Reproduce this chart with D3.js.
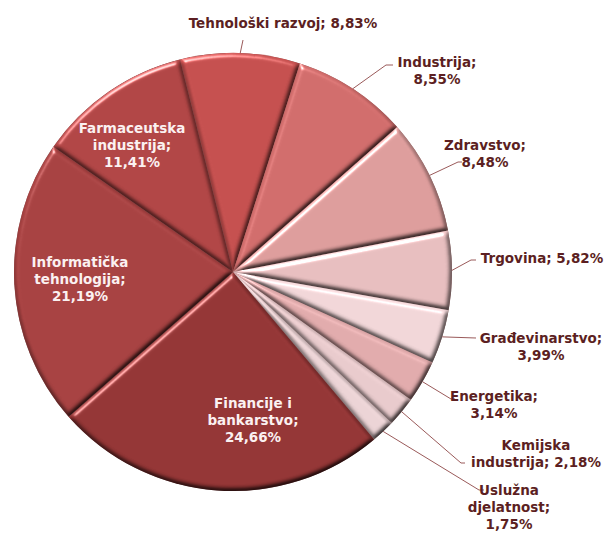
<!DOCTYPE html>
<html>
<head>
<meta charset="utf-8">
<script src="https://cdn.jsdelivr.net/npm/d3@7"></script>
<style>
  html, body { margin: 0; padding: 0; background: #ffffff; }
  svg { display: block; }
  text { font-family: "DejaVu Sans", Verdana, sans-serif; font-weight: bold; }
</style>
</head>
<body>
<svg id="chart" width="612" height="533"></svg>
<script>
// ---- data ----
const categories = [
  "Tehnološki razvoj", "Industrija", "Zdravstvo", "Trgovina", "Građevinarstvo",
  "Energetika", "Kemijska industrija", "Uslužna djelatnost", "Financije i bankarstvo",
  "Informatička tehnologija", "Farmaceutska industrija"
];
const values = [8.83, 8.55, 8.48, 5.82, 3.99, 3.14, 2.18, 1.75, 24.66, 21.19, 11.41];
const valueLabels = ["8,83%", "8,55%", "8,48%", "5,82%", "3,99%", "3,14%", "2,18%", "1,75%", "24,66%", "21,19%", "11,41%"];
// label text lines (as in the chart)
const labelLines = [
  ["Tehnološki razvoj; 8,83%"],
  ["Industrija;", "8,55%"],
  ["Zdravstvo;", "8,48%"],
  ["Trgovina; 5,82%"],
  ["Građevinarstvo;", "3,99%"],
  ["Energetika;", "3,14%"],
  ["Kemijska", "industrija;  2,18%"],
  ["Uslužna", "djelatnost;", "1,75%"],
  ["Financije i", "bankarstvo;", "24,66%"],
  ["Informatička", "tehnologija;", "21,19%"],
  ["Farmaceutska", "industrija;", "11,41%"]
];

// ---- styles / layout (kept separate from data) ----
const colors = ["#c44f4e", "#d06c6b", "#dc9c9b", "#e6bdbe", "#f0d5d7",
                "#e0aaab", "#e7c9cb", "#ead2d4", "#933535", "#a64141", "#b04545"];
const insideLabel = [false, false, false, false, false, false, false, false, true, true, true];
// label anchor (center x, center y of first line), and leader elbow point
const labelAnchor = [
  [283, 23], [437, 62], [485, 145], [542, 258], [541, 338],
  [494, 396], [536, 445], [509, 490], [253, 403], [80, 262], [132, 128]
];
const leaderEnd = [
  [[243, 40]], [[386, 65], [393, 65]], [[458, 162], [462, 162]], [[471, 260], [476, 260]],
  [[476, 338]], [[451, 399], [455, 399]], [[461, 463], [465, 463]], [[479, 490], [484, 490]],
  null, null, null
];
const cx = 233, cy = 272, R = 219;
const startDeg = -14;
const lineGap = 17.3;

const svg = d3.select("#chart");

// bevel filter
const defs = svg.append("defs");
const f = defs.append("filter").attr("id", "bevel")
  .attr("color-interpolation-filters", "sRGB")
  .attr("x", "-10%").attr("y", "-10%").attr("width", "120%").attr("height", "120%");
f.append("feGaussianBlur").attr("in", "SourceAlpha").attr("stdDeviation", 2.8).attr("result", "blur");
const dl = f.append("feDiffuseLighting").attr("in", "blur").attr("surfaceScale", 3.5)
  .attr("diffuseConstant", 1.155).attr("lighting-color", "#ffffff").attr("result", "diff");
dl.append("feDistantLight").attr("azimuth", 245).attr("elevation", 60);
f.append("feComposite").attr("in", "SourceGraphic").attr("in2", "diff")
  .attr("operator", "arithmetic").attr("k1", 1).attr("k2", 0).attr("k3", 0).attr("k4", 0)
  .attr("result", "shaded");
const sl = f.append("feSpecularLighting").attr("in", "blur").attr("surfaceScale", 3.5)
  .attr("specularConstant", 0.9).attr("specularExponent", 30)
  .attr("lighting-color", "#ffffff").attr("result", "spec");
sl.append("feDistantLight").attr("azimuth", 245).attr("elevation", 30);
f.append("feComposite").attr("in", "spec").attr("in2", "SourceAlpha").attr("operator", "in").attr("result", "specIn");
f.append("feComposite").attr("in", "shaded").attr("in2", "specIn")
  .attr("operator", "arithmetic").attr("k1", 0).attr("k2", 1).attr("k3", 0.7).attr("k4", 0);

const data = categories.map((c, i) => ({ name: c, value: values[i], i }));
const pie = d3.pie().sort(null).value(d => d.value)
  .startAngle(startDeg * Math.PI / 180)
  .endAngle((startDeg + 360) * Math.PI / 180);
const arcs = pie(data);
const arc = d3.arc().innerRadius(0).outerRadius(R);

const g = svg.append("g").attr("transform", `translate(${cx},${cy})`);

// dark backdrop to make thin gaps between slices
g.append("circle").attr("r", R).attr("fill", "#5e2424").attr("opacity", 0.7);

g.selectAll("path.slice").data(arcs).enter().append("path")
  .attr("class", "slice")
  .attr("d", arc)
  .attr("fill", d => colors[d.data.i])
  .attr("filter", "url(#bevel)");

// leader lines
const line = d3.line();
arcs.forEach(d => {
  const le = leaderEnd[d.data.i];
  if (!le) return;
  const mid = (d.startAngle + d.endAngle) / 2;
  const p0 = [cx + R * Math.sin(mid), cy - R * Math.cos(mid)];
  svg.append("path")
    .attr("d", line([p0, ...le]))
    .attr("fill", "none")
    .attr("stroke", "#9a5a5a")
    .attr("stroke-width", 1);
});

// labels
arcs.forEach(d => {
  const i = d.data.i;
  const [ax, ay] = labelAnchor[i];
  const t = svg.append("text")
    .attr("text-anchor", "middle")
    .attr("font-size", 13.5)
    .attr("fill", insideLabel[i] ? "#fbf1f1" : "#5c1f22");
  labelLines[i].forEach((s, k) => {
    t.append("tspan").attr("x", ax).attr("y", ay + k * lineGap).attr("dy", "0.35em").text(s);
  });
});
</script>
</body>
</html>
